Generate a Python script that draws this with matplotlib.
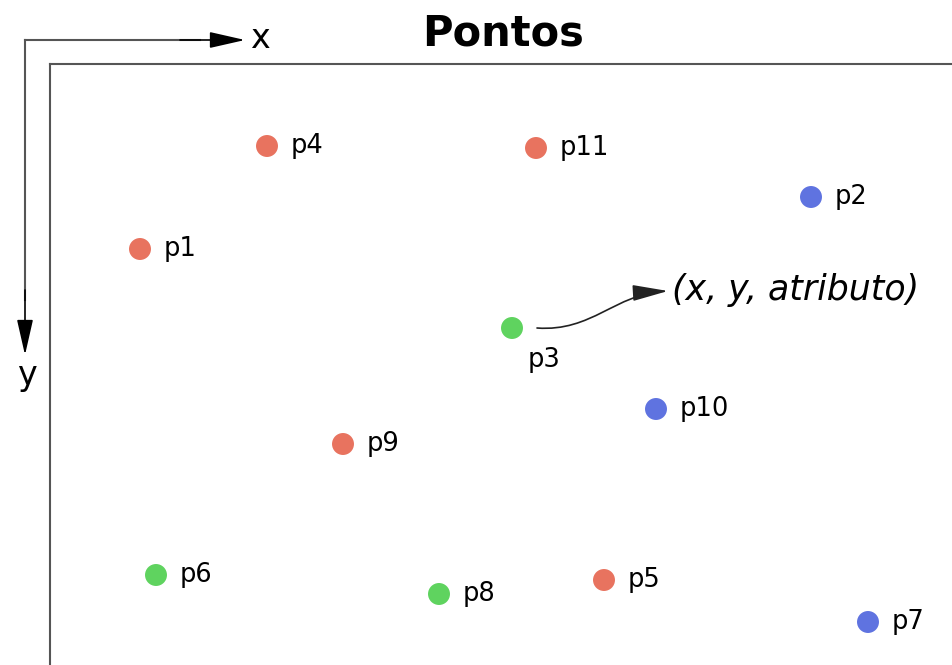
import matplotlib.pyplot as plt
from matplotlib.patches import FancyArrowPatch
from matplotlib.path import Path

# point data (x grows to the right, y grows downwards)
labels = ["p1", "p2", "p3", "p4", "p5", "p6", "p7", "p8", "p9", "p10", "p11"]
xs = [0.90, 7.61, 4.62, 2.17, 5.54, 1.06, 8.18, 3.89, 2.93, 6.06, 4.86]
ys = [1.85, 1.33, 2.64, 0.82, 5.16, 5.11, 5.58, 5.30, 3.80, 3.45, 0.84]
groups = ["a", "b", "c", "a", "a", "c", "b", "c", "a", "b", "a"]

colors = {"a": "#e8735f", "b": "#5f73e0", "c": "#5fd35f"}

fig = plt.figure(figsize=(9.52, 6.65), dpi=100)

# main frame, only top and left visible
ax = fig.add_axes([50 / 952, 0, 902 / 952, 601 / 665])
ax.set_xlim(0, 9.02)
ax.set_ylim(6.01, 0)
ax.set_xticks([])
ax.set_yticks([])
for side in ["right", "bottom"]:
    ax.spines[side].set_visible(False)
for side in ["top", "left"]:
    ax.spines[side].set_color("#555555")
    ax.spines[side].set_linewidth(1.5)

ax.scatter(xs, ys, s=250, c=[colors[g] for g in groups], zorder=3,
           linewidths=0)

for lab, x, y in zip(labels, xs, ys):
    if lab == "p3":
        ax.annotate(lab, (x, y), xytext=(16, -32), textcoords="offset pixels",
                    ha="left", va="center", fontsize=18.5)
    else:
        ax.annotate(lab, (x, y), xytext=(24, 0), textcoords="offset pixels",
                    ha="left", va="center", fontsize=18.5)

# overlay in pixel units for arrows and texts
ov = fig.add_axes([0, 0, 1, 1])
ov.set_xlim(0, 952)
ov.set_ylim(665, 0)
ov.axis("off")
ov.patch.set_alpha(0)

head = "-|>,head_length=2.2,head_width=0.5"
ov.plot([25, 25], [40, 300], color="#555555", lw=1.5)
ov.plot([25, 200], [40, 40], color="#555555", lw=1.5)
ov.annotate("", xy=(245, 40), xytext=(180, 40),
            arrowprops=dict(arrowstyle=head, color="black", lw=1.2,
                            mutation_scale=10, shrinkA=0, shrinkB=0))
ov.annotate("", xy=(25, 355), xytext=(25, 290),
            arrowprops=dict(arrowstyle=head, color="black", lw=1.2,
                            mutation_scale=10, shrinkA=0, shrinkB=0))
ov.text(260, 38, "x", fontsize=24, ha="center", va="center")
ov.text(27, 376, "y", fontsize=24, ha="center", va="center")

ov.text(503, 34, "Pontos", fontsize=30, fontweight="bold",
        ha="center", va="center")

curve = Path([(537, 328), (592, 332), (615, 294), (668, 291)],
             [Path.MOVETO, Path.CURVE4, Path.CURVE4, Path.CURVE4])
ov.add_patch(FancyArrowPatch(path=curve, arrowstyle=head,
                             mutation_scale=10, shrinkA=0, shrinkB=0,
                             color="#222222", lw=1.2))
ov.text(672, 290, "(x, y, atributo)", fontsize=25, style="italic",
        ha="left", va="center")

fig.savefig("out.png", dpi=100)
